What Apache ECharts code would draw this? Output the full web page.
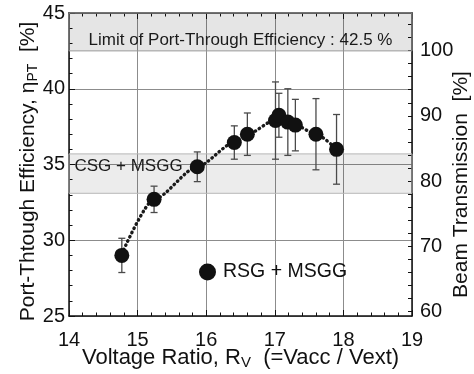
<!DOCTYPE html>
<html>
<head>
<meta charset="utf-8">
<script src="https://cdn.jsdelivr.net/npm/echarts@6/dist/echarts.min.js"></script>
<style>html,body{margin:0;padding:0;background:#fff}#c{width:474px;height:374px}</style>
</head>
<body>
<div id="c"></div>
<script>
// Measured points (RSG + MSGG)
var ratioX = [14.77, 15.24, 15.87, 16.41, 16.6, 17.01, 17.06, 17.19, 17.3, 17.6, 17.9];
var effY   = [29.0, 32.7, 34.85, 36.45, 37.0, 37.9, 38.25, 37.8, 37.6, 37.0, 36.0];
var effErr = [1.13, 0.87, 0.98, 1.1, 1.4, 2.55, 1.45, 2.2, 1.7, 2.35, 2.3];
// Dotted trend curve
var fitX = [14.77, 15.24, 15.87, 16.41, 16.6, 17.03, 17.3, 17.6, 17.9];
var fitY = [29.1, 32.7, 34.85, 36.45, 37.0, 38.0, 37.6, 37.0, 36.0];
// Bands
var limitBand = [42.5, 45];
var csgBand = [33.1, 35.7];
// Tick labels
var xTicks = [14, 15, 16, 17, 18, 19];
var leftTicks = [25, 30, 35, 40, 45];
var rightTicks = [60, 70, 80, 90, 100];
var rightMinor = [62, 64, 66, 68, 72, 74, 76, 78, 82, 84, 86, 88, 92, 94, 96, 98, 102, 104];

var FONT = "'Liberation Sans', Arial, Helvetica, sans-serif";
var chart = echarts.init(document.getElementById('c'), null, {renderer: 'canvas'});

var pts = ratioX.map(function (x, i) { return [x, effY[i]]; });
var errData = ratioX.map(function (x, i) { return [x, effY[i] - effErr[i], effY[i] + effErr[i]]; });
var fitData = fitX.map(function (x, i) { return [x, fitY[i]]; });

var axisLineStyle = {color: '#111', width: 1.5};

chart.setOption({
  animation: false,
  textStyle: {fontFamily: FONT},
  grid: {left: 69, right: 62, top: 13, bottom: 58, containLabel: false, outerBoundsMode: 'none'},
  legend: {
    data: ['RSG + MSGG'],
    left: 199, top: 262, padding: 0,
    icon: 'circle',
    itemWidth: 17, itemHeight: 17,
    textStyle: {fontSize: 19.5, color: '#111', fontFamily: FONT, padding: [0, 0, 0, 2]},
    selectedMode: false
  },
  xAxis: [{
    type: 'value', min: xTicks[0], max: xTicks[xTicks.length - 1], interval: 1,
    position: 'bottom',
    name: 'Voltage Ratio, R{s|V}  (=Vacc / Vext)',
    nameLocation: 'middle', nameGap: 30, nameMoveOverlap: false,
    nameTextStyle: {fontSize: 22, color: '#111', fontFamily: FONT,
      rich: {s: {fontSize: 15, color: '#111', fontFamily: FONT, padding: [9, 0, 0, 0]}}},
    axisLine: {lineStyle: axisLineStyle},
    axisTick: {inside: true, length: 6, lineStyle: {color: '#111', width: 1}},
    minorTick: {show: true, splitNumber: 5, length: 3.5, lineStyle: {color: '#111', width: 1}},
    axisLabel: {fontSize: 20, color: '#111', margin: 14, fontFamily: FONT},
    splitLine: {show: true, lineStyle: {color: '#8c8c8c', width: 1}}
  }, {
    type: 'value', min: xTicks[0], max: xTicks[xTicks.length - 1], interval: 1,
    position: 'top',
    axisLine: {lineStyle: axisLineStyle},
    axisTick: {inside: true, length: 6, lineStyle: {color: '#111', width: 1}},
    minorTick: {show: true, splitNumber: 5, length: 3.5, lineStyle: {color: '#111', width: 1}},
    axisLabel: {show: false},
    splitLine: {show: false}
  }],
  yAxis: [{
    type: 'value', min: leftTicks[0], max: leftTicks[leftTicks.length - 1], interval: 5,
    position: 'left',
    name: '{n|Port-Thtough Efficiency, η}{s|PT}{n|  [%]}',
    nameLocation: 'middle', nameRotate: 90, nameGap: 29, nameMoveOverlap: false,
    nameTextStyle: {fontSize: 21, color: '#111', fontFamily: FONT, padding: [0, 14, 0, 0],
      rich: {n: {fontSize: 21, color: '#111', fontFamily: FONT},
             s: {fontSize: 14, color: '#111', fontFamily: FONT, padding: [9, 0, 0, 0]}}},
    axisLine: {show: true, lineStyle: axisLineStyle},
    axisTick: {show: true, inside: true, length: 6, lineStyle: {color: '#111', width: 1}},
    minorTick: {show: true, splitNumber: 5, length: 3.5, lineStyle: {color: '#111', width: 1}},
    axisLabel: {fontSize: 20, color: '#111', margin: 4, fontFamily: FONT},
    splitLine: {show: true, lineStyle: {color: '#8c8c8c', width: 1}}
  }, {
    type: 'value', min: 59.33, max: 105.75,
    position: 'right',
    name: 'Beam Transmission  [%]',
    nameLocation: 'middle', nameRotate: 90, nameGap: 39, nameMoveOverlap: false,
    nameTextStyle: {fontSize: 21, color: '#111', fontFamily: FONT, padding: [0, 40, 0, 0]},
    axisLine: {show: true, lineStyle: axisLineStyle},
    axisTick: {show: true, inside: true, length: 4, customValues: rightTicks.concat(rightMinor),
      lineStyle: {color: '#111', width: 1}},
    axisLabel: {fontSize: 20, color: '#111', margin: 8, fontFamily: FONT, customValues: rightTicks},
    splitLine: {show: false}
  }],
  series: [{
    type: 'line',
    name: 'fit',
    data: fitData,
    smooth: 0.25,
    smoothMonotone: 'x',
    showSymbol: false,
    symbol: 'none',
    lineStyle: {color: '#1a1a1a', width: 3.4, type: [0.5, 4.2], cap: 'round'},
    z: 3,
    markArea: {
      silent: true,
      data: [
        [{yAxis: limitBand[0], itemStyle: {color: 'rgba(0,0,0,0.1)', borderColor: '#9a9a9a', borderWidth: 1},
          label: {show: true, position: 'inside', offset: [0, 8], formatter: 'Limit of Port-Through Efficiency : 42.5 %',
            fontSize: 17, color: '#1a1a1a', fontFamily: FONT}},
         {yAxis: limitBand[1]}],
        [{yAxis: csgBand[0], itemStyle: {color: 'rgba(0,0,0,0.075)', borderColor: '#b5b5b5', borderWidth: 1},
          label: {show: true, position: 'insideLeft', distance: 6, offset: [0, -7], formatter: 'CSG + MSGG',
            fontSize: 17, color: '#1a1a1a', fontFamily: FONT}},
         {yAxis: csgBand[1]}]
      ]
    }
  }, {
    type: 'custom',
    name: 'err',
    data: errData,
    z: 4,
    renderItem: function (params, api) {
      var x = api.value(0), lo = api.value(1), hi = api.value(2);
      var a = api.coord([x, hi]), b = api.coord([x, lo]);
      var w = 3.5;
      var st = {stroke: '#4a4a4a', lineWidth: 1.3};
      return {type: 'group', children: [
        {type: 'line', shape: {x1: a[0], y1: a[1], x2: b[0], y2: b[1]}, style: st},
        {type: 'line', shape: {x1: a[0] - w, y1: a[1], x2: a[0] + w, y2: a[1]}, style: st},
        {type: 'line', shape: {x1: b[0] - w, y1: b[1], x2: b[0] + w, y2: b[1]}, style: st}
      ]};
    }
  }, {
    type: 'scatter',
    name: 'RSG + MSGG',
    data: pts,
    symbol: 'circle',
    symbolSize: 15,
    itemStyle: {color: '#111', opacity: 1},
    z: 5
  }]
});
</script>
</body>
</html>
